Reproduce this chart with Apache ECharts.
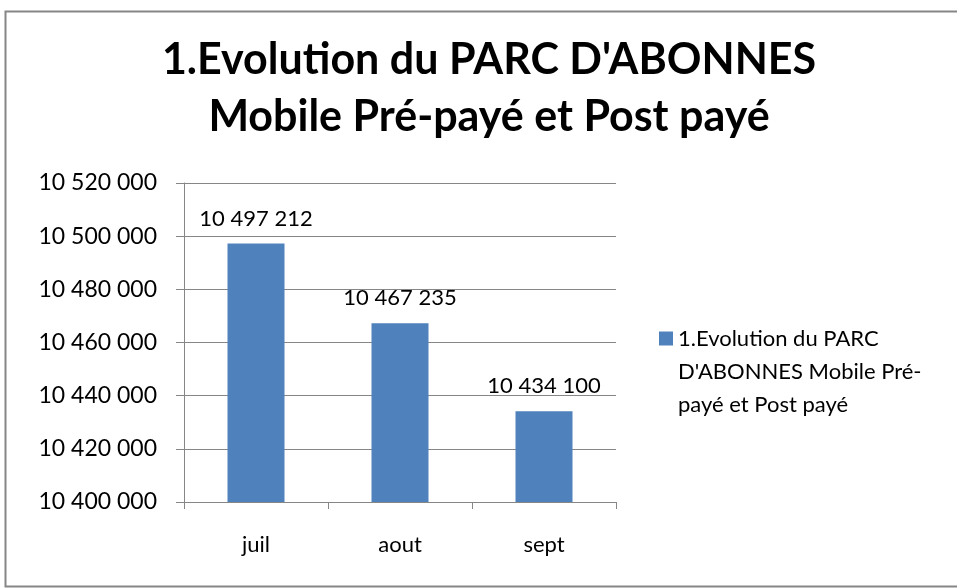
<!DOCTYPE html>
<html>
<head>
<meta charset="utf-8">
<script src="https://cdn.jsdelivr.net/npm/echarts@6/dist/echarts.min.js"></script>
<style>
    html, body { margin: 0; padding: 0; background: #fff; }
    #chart { width: 957px; height: 588px; }
</style>
</head>
<body>
<div id="chart"></div>
<script>
// Data
const months = ['juil', 'aout', 'sept'];
const subscribers = [10497212, 10467235, 10434100];
const seriesName = "1.Evolution du PARC D'ABONNES Mobile Pré-payé et Post payé";

// Axis range
const Y_MIN = 10400000;
const Y_MAX = 10520000;
const Y_STEP = 20000;

const FONT = 'Lato';
const GRAY = '#868686';

// 10497212 -> "10 497 212"
function spaced(v) {
    return String(v).replace(/\B(?=(\d{3})+(?!\d))/g, ' ');
}

const chart = echarts.init(document.getElementById('chart'));

chart.setOption({
    animation: false,
    backgroundColor: '#fff',
    title: {
        text: "1.Evolution du PARC D'ABONNES\nMobile Pré-payé et Post payé",
        left: 489,
        textAlign: 'center',
        top: 32,
        padding: 0,
        textStyle: {
            fontFamily: FONT,
            fontWeight: 'bold',
            fontSize: 43,
            lineHeight: 57,
            color: '#000'
        }
    },
    legend: {
        left: 659,
        top: 256,
        padding: 0,
        icon: 'rect',
        itemWidth: 14,
        itemHeight: 14,
        selectedMode: false,
        // two empty lines first so the square sits beside the first text line
        formatter: () => "\n\n1.Evolution du PARC\nD'ABONNES Mobile Pré-\npayé et Post payé",
        textStyle: {
            fontFamily: FONT,
            fontSize: 22,
            lineHeight: 33,
            color: '#000'
        }
    },
    grid: {
        left: 184,
        right: 341,
        top: 183,
        bottom: 86
    },
    xAxis: {
        type: 'category',
        data: months,
        axisLine: { lineStyle: { color: GRAY, width: 1 } },
        axisTick: { show: true, length: 7, lineStyle: { color: GRAY } },
        axisLabel: {
            margin: 32,
            fontFamily: FONT,
            fontSize: 22,
            color: '#000'
        }
    },
    yAxis: {
        type: 'value',
        min: Y_MIN,
        max: Y_MAX,
        interval: Y_STEP,
        axisLine: { show: true, lineStyle: { color: GRAY, width: 1 } },
        axisTick: { show: true, length: 8, lineStyle: { color: GRAY } },
        splitLine: { lineStyle: { color: GRAY, width: 1 } },
        axisLabel: {
            margin: 27,
            fontFamily: FONT,
            fontSize: 23,
            color: '#000',
            formatter: spaced
        }
    },
    series: [{
        name: seriesName,
        type: 'bar',
        data: subscribers,
        barWidth: 57,
        itemStyle: { color: '#4F81BD' },
        label: {
            show: true,
            position: 'top',
            distance: 14,
            fontFamily: FONT,
            fontSize: 22,
            color: '#000',
            formatter: p => spaced(p.value)
        }
    }],
    graphic: [{
        type: 'rect',
        shape: { x: 5.5, y: 11.5, width: 960, height: 575 },
        style: { fill: 'none', stroke: GRAY, lineWidth: 2 },
        silent: true
    }]
});
</script>
</body>
</html>
